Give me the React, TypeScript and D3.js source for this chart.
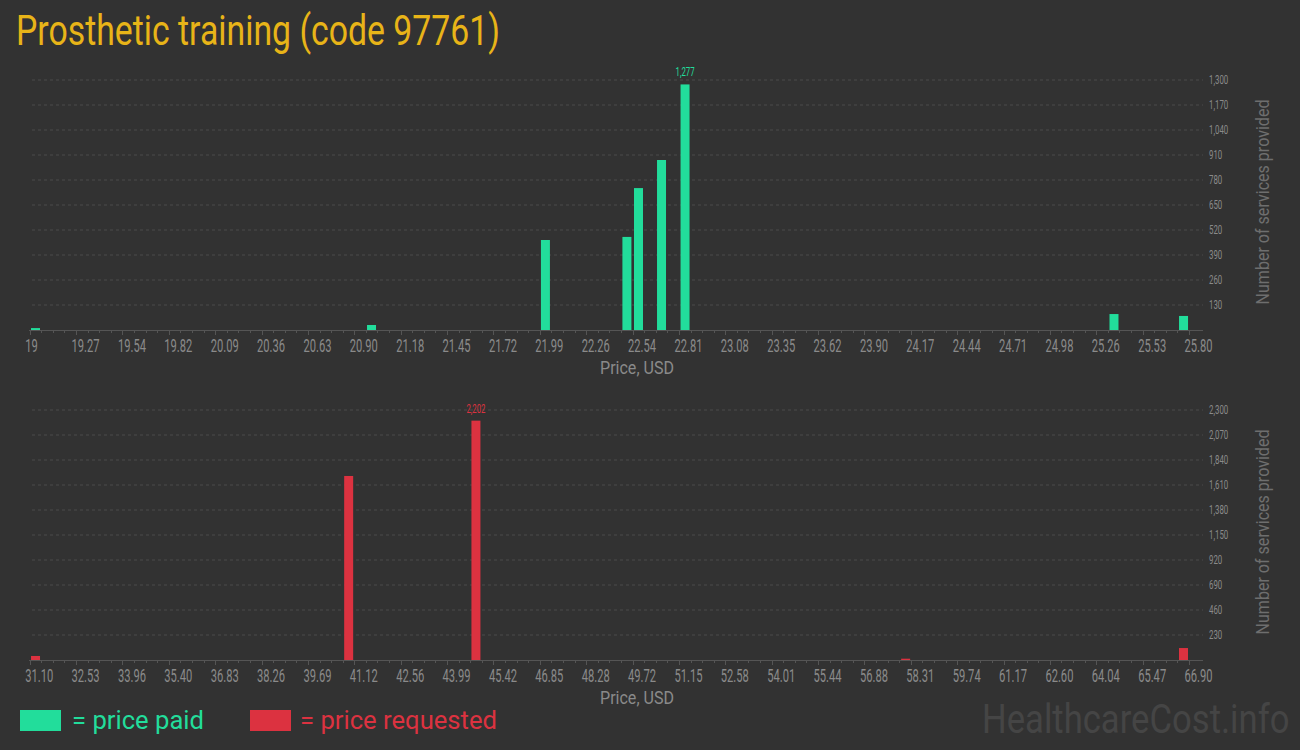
import React from "react";
import * as d3 from "d3";

const paidPrices = [19.034, 21.005, 22.025, 22.503, 22.571, 22.706, 22.844, 25.36, 25.768];
const paidCounts = [10, 26, 468, 484, 738, 884, 1277, 83, 73];
const paidTickLabels = ["19", "19.27", "19.54", "19.82", "20.09", "20.36", "20.63", "20.90", "21.18", "21.45", "21.72", "21.99", "22.26", "22.54", "22.81", "23.08", "23.35", "23.62", "23.90", "24.17", "24.44", "24.71", "24.98", "25.26", "25.53", "25.80"];
const paidYTicks = [130, 260, 390, 520, 650, 780, 910, 1040, 1170, 1300];

const reqPrices = [31.28, 40.95, 44.88, 58.15, 66.73];
const reqCounts = [37, 1693, 2202, 12, 110];
const reqTickLabels = ["31.10", "32.53", "33.96", "35.40", "36.83", "38.26", "39.69", "41.12", "42.56", "43.99", "45.42", "46.85", "48.28", "49.72", "51.15", "52.58", "54.01", "55.44", "56.88", "58.31", "59.74", "61.17", "62.60", "64.04", "65.47", "66.90"];
const reqYTicks = [230, 460, 690, 920, 1150, 1380, 1610, 1840, 2070, 2300];

const GREEN = "#22dd9b";
const RED = "#dc3240";
const BG = "#323232";
const FONT = "Roboto, sans-serif";

function Chart({ prices, counts, tickLabels, yTicks, color, top }: any) {
  const x0 = 29.7, x1 = 1189;
  const base = top + 250;
  const dMin = parseFloat(tickLabels[0]);
  const dMax = parseFloat(tickLabels[tickLabels.length - 1]);
  const x = d3.scaleLinear().domain([dMin, dMax]).range([x0, x1]);
  const y = d3.scaleLinear().domain([0, yTicks[yTicks.length - 1]]).range([base, top]);
  const nMaj = tickLabels.length - 1;
  const majStep = (dMax - dMin) / nMaj;
  const minor = d3.range(nMaj * 4 + 1).map((i) => dMin + (i * majStep) / 4);
  const maxI = counts.indexOf(d3.max(counts));
  const bw = 9;
  const fmt = d3.format(",");
  return (
    <g>
      {yTicks.map((t: number) => (
        <g key={t}>
          <line x1={32} x2={1203} y1={y(t)} y2={y(t)} stroke="#4b4b4b" strokeDasharray="3,3" strokeWidth={1} />
          <g transform={`translate(1209,${y(t) + 4}) scale(0.63,1)`}>
            <text fontFamily={FONT} fontSize={12.5} fill="#8a8a8a">{fmt(t)}</text>
          </g>
        </g>
      ))}
      {prices.map((p: number, i: number) => (
        <rect key={i} x={x(p) - bw / 2} y={y(counts[i])} width={bw} height={base - y(counts[i])} fill={color} />
      ))}
      <line x1={29} x2={1203} y1={base + 0.5} y2={base + 0.5} stroke="#555" strokeWidth={1} />
      {minor.map((v: number, i: number) => (
        <line key={i} x1={Math.round(x(v)) + 0.5} x2={Math.round(x(v)) + 0.5} y1={base} y2={base + (i % 4 === 0 ? 5 : 3)} stroke="#555" strokeWidth={1} />
      ))}
      {tickLabels.map((l: string, i: number) => (
        <g key={l} transform={`translate(${x(dMin + i * majStep) - 4.5},${base + 22}) scale(0.62,1)`}>
          <text fontFamily={FONT} fontSize={18} fill="#8a8a8a">{l}</text>
        </g>
      ))}
      <g transform={`translate(${x(prices[maxI])},${y(counts[maxI]) - 8}) scale(0.6,1)`}>
        <text fontFamily={FONT} fontSize={13} fill={color} textAnchor="middle">{fmt(counts[maxI])}</text>
      </g>
      <text x={637} y={base + 44} fontFamily={FONT} fontSize={18} fill="#8a8a8a" textAnchor="middle" textLength={74} lengthAdjust="spacingAndGlyphs">Price, USD</text>
      <text transform={`translate(1269,${top + 122}) rotate(-90)`} fontFamily={FONT} fontSize={19} fill="#6e6e6e" textAnchor="middle" textLength={205} lengthAdjust="spacingAndGlyphs">Number of services provided</text>
    </g>
  );
}

export default function App() {
  return (
    <svg width={1300} height={750} style={{ position: "absolute", left: 0, top: 0, display: "block" }}>
      <rect x={0} y={0} width={1300} height={750} fill={BG} />
      <text x={16} y={45} fontFamily={FONT} fontSize={42} fill="#e8b418" textLength={484} lengthAdjust="spacingAndGlyphs">Prosthetic training (code 97761)</text>
      <Chart prices={paidPrices} counts={paidCounts} tickLabels={paidTickLabels} yTicks={paidYTicks} color={GREEN} top={80} />
      <Chart prices={reqPrices} counts={reqCounts} tickLabels={reqTickLabels} yTicks={reqYTicks} color={RED} top={410} />
      <rect x={20} y={710} width={41} height={21} fill={GREEN} />
      <text x={72} y={729} fontFamily={FONT} fontSize={26} fill={GREEN} textLength={132} lengthAdjust="spacingAndGlyphs">= price paid</text>
      <rect x={250} y={710} width={41} height={21} fill={RED} />
      <text x={300} y={729} fontFamily={FONT} fontSize={26} fill={RED} textLength={197} lengthAdjust="spacingAndGlyphs">= price requested</text>
      <g transform="translate(982,733) scale(0.866,1)">
        <text x={0} y={0} fontFamily={FONT} fontSize={40} fill="#454545">HealthcareCost.info</text>
      </g>
    </svg>
  );
}
